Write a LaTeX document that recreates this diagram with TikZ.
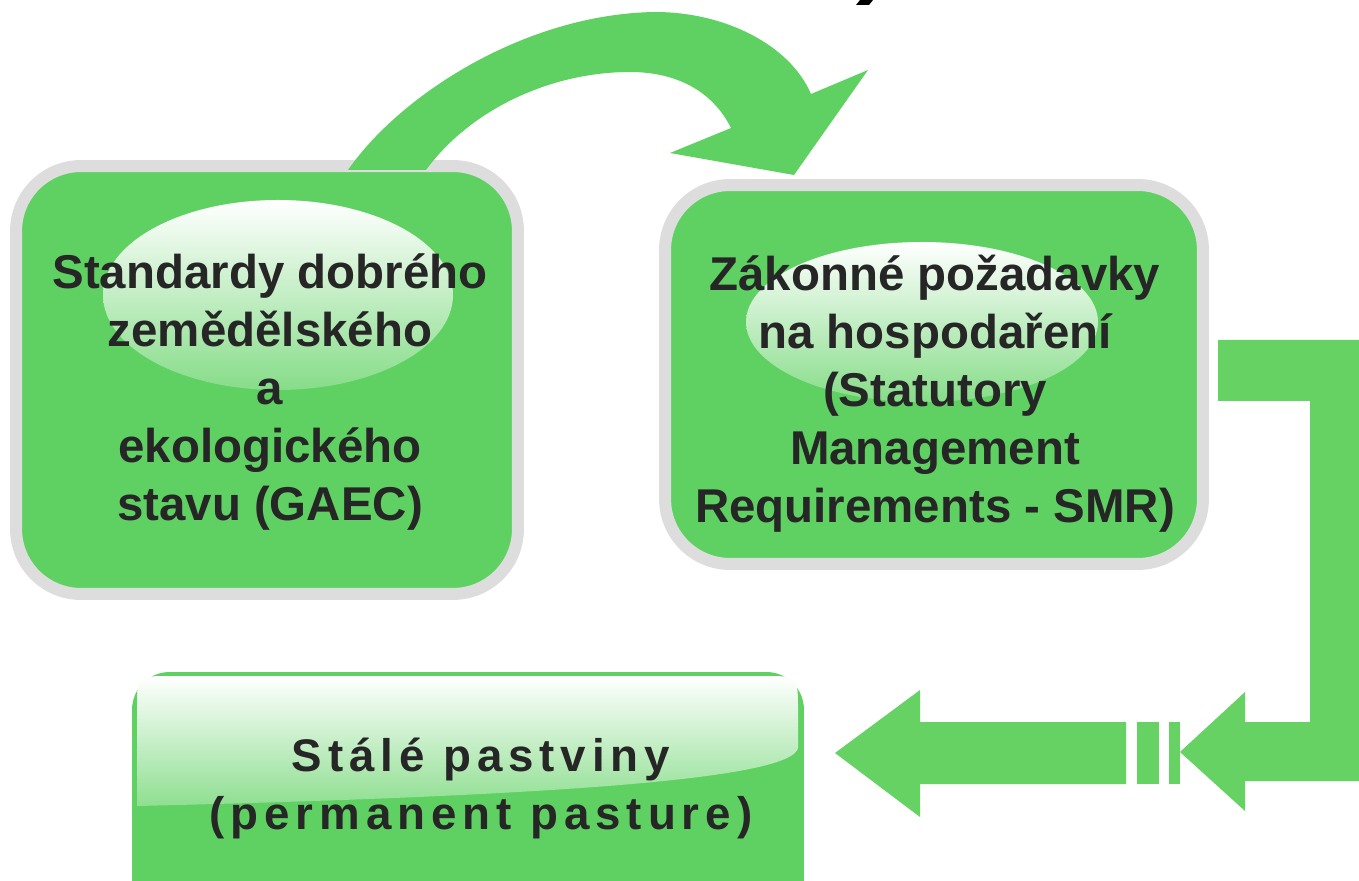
\documentclass[tikz,border=0pt]{standalone}
\usepackage{fontspec}
\setmainfont{Liberation Sans}
\newfontfamily\pasturefont[LetterSpace=13]{Liberation Sans}
\usetikzlibrary{calc}
\definecolor{boxgreen}{RGB}{95,209,98}
\definecolor{arrowgreen}{RGB}{102,210,100}
\definecolor{rimgray}{RGB}{221,221,221}
\definecolor{textgray}{RGB}{38,38,38}

\begin{document}
\begin{tikzpicture}[x=0.02cm,y=-0.02cm,
  cardbox/.style={rectangle,draw=rimgray,line width=0.24cm,fill=boxgreen,rounded corners=1.3cm},
  cardtext/.style={align=center,text=textgray,font=\fontsize{27}{33}\selectfont\bfseries},
  gloss/.style={top color=white,bottom color=boxgreen!75!white}]

  \useasboundingbox (0,0) rectangle (1359,881);
  \clip (0,0) rectangle (1359,881);
  \fill[white] (0,0) rectangle (1359,881);

  % boxes
  \node[cardbox,minimum width=10.04cm,minimum height=8.56cm] (gaec) at (267,380) {};
  \node[cardbox,minimum width=10.76cm,minimum height=7.58cm] (smr) at (934,374.5) {};
  \node[rectangle,fill=boxgreen,rounded corners=0.75cm,minimum width=13.44cm,minimum height=5.56cm] (pasture) at (468,811) {};

  % highlights
  \shade[gloss] (278,295) ellipse [x radius=175,y radius=95];
  \shade[gloss] (922,322) ellipse [x radius=176,y radius=80];
  \shade[top color=white,bottom color=boxgreen!70!white] (137,806) -- (137,710)
    .. controls (137,676) .. (171,676) -- (764,676) .. controls (798,676) .. (798,710)
    -- (798,748) .. controls (792,776) and (600,795) .. (137,806) -- cycle;

  % texts
  \node[cardtext] (gaectext) at (270,392) {Standardy dobrého\\zemědělského\\a\\ekologického\\stavu (GAEC)};
  \node[cardtext] (smrtext) at (935,394) {Zákonné požadavky\\na hospodaření\\(Statutory\\Management\\Requirements - SMR)};
  \node[cardtext,font=\pasturefont\fontsize{26}{33}\selectfont\bfseries] (pasturetext) at (481,788) {Stálé pastviny\\(permanent pasture)};

  % curved arrow
  \fill[boxgreen] (348,170) .. controls (400,95) and (525,14) .. (655,12)
    .. controls (725,12) and (790,45) .. (811,94)
    -- (868,70) -- (794,175) -- (670,153) -- (731,128)
    .. controls (712,90) and (675,72) .. (630,72)
    .. controls (550,72) and (470,110) .. (426,170) -- cycle;

  % elbow arrow
  \fill[arrowgreen] (1218,340) -- (1359,340) -- (1359,781) -- (1245,781) -- (1245,811)
    -- (1180,752) -- (1245,692) -- (1245,722) -- (1310,722) -- (1310,401) -- (1218,401) -- cycle;

  % striped arrow
  \fill[arrowgreen] (1169,722) rectangle (1180,784);
  \fill[arrowgreen] (1137,722) rectangle (1159,784);
  \fill[arrowgreen] (1126,722) -- (920,722) -- (920,690) -- (835,753) -- (920,817)
    -- (920,784) -- (1126,784) -- cycle;

  \fill[black] (860,0) -- (873,0) -- (869,5) -- (856,5) -- cycle;

\end{tikzpicture}
\end{document}
